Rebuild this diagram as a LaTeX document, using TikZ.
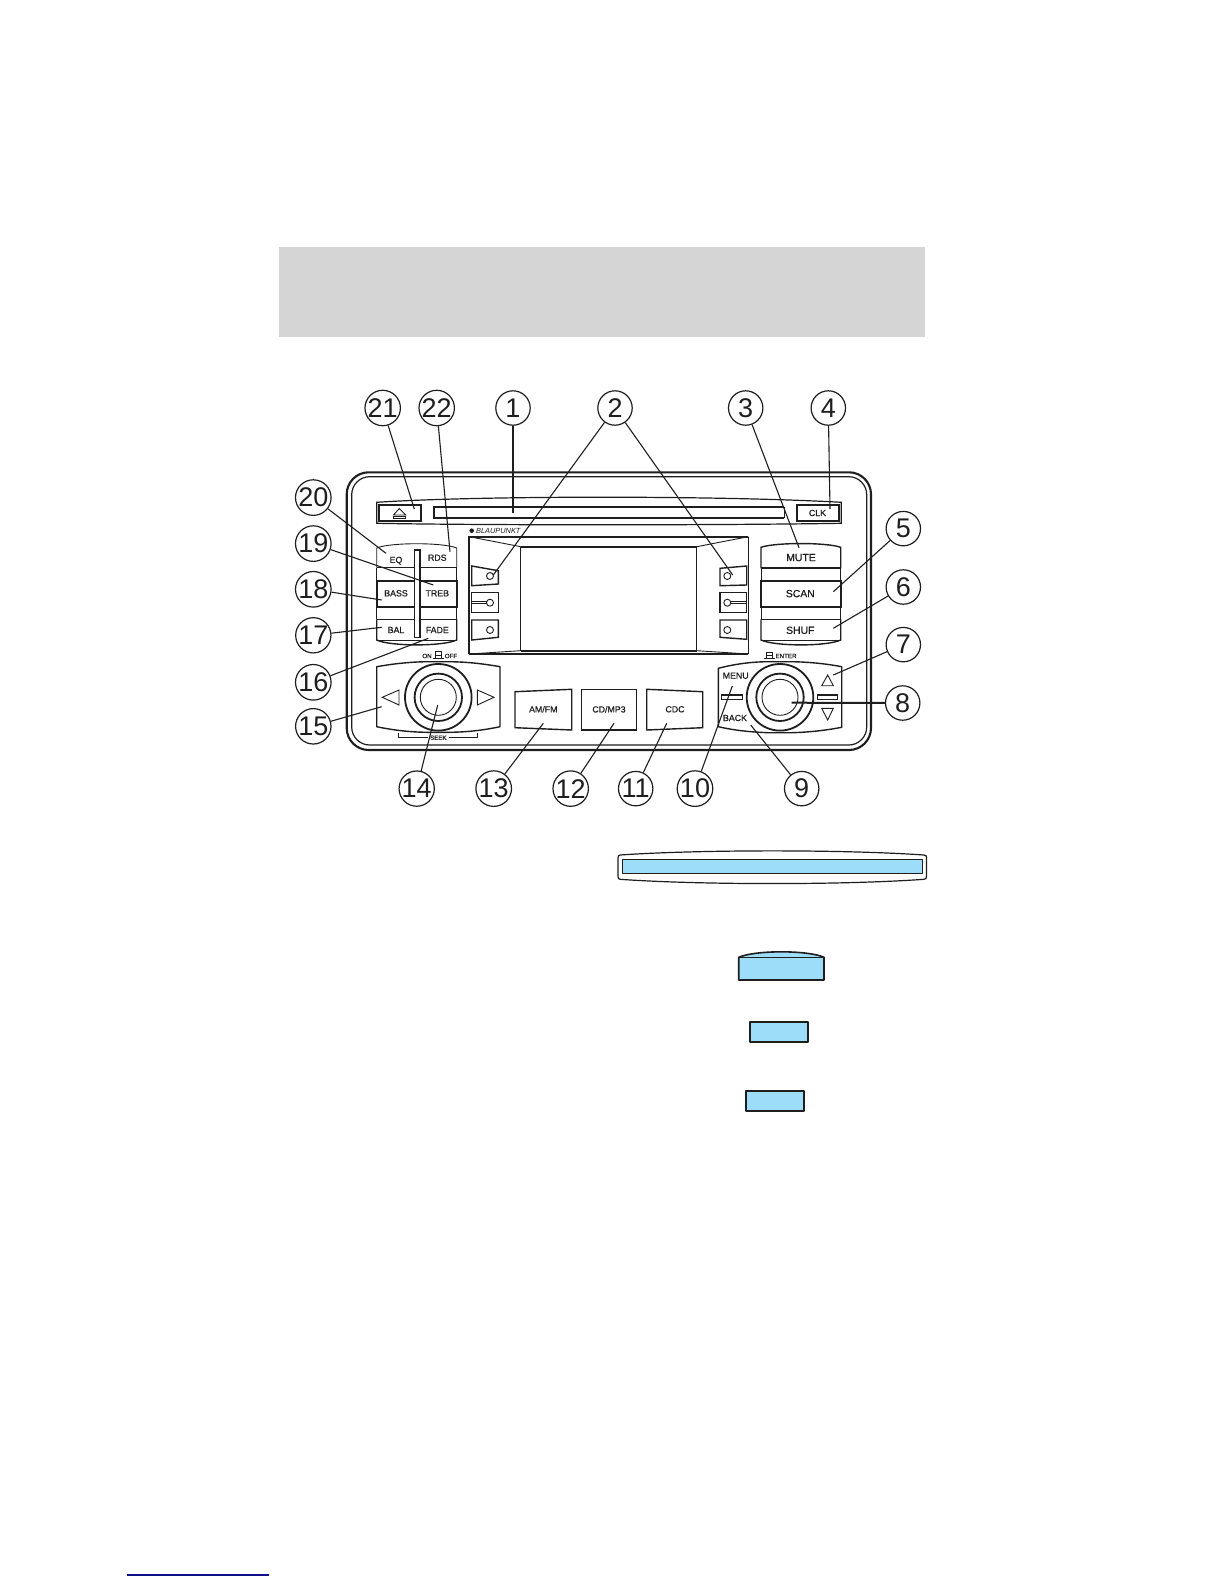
\documentclass[tikz,border=0pt]{standalone}
\usepackage{fontspec}
\setmainfont{Liberation Sans}
\newfontfamily\labfont[FakeBold=0.6]{Liberation Sans}
\definecolor{ink}{HTML}{1E1E1E}
\definecolor{lightblue}{HTML}{9EDDF9}
\definecolor{headgray}{HTML}{D5D5D5}
\definecolor{navyline}{HTML}{10108C}
\tikzset{
  thinl/.style={draw=ink,line width=.45pt},
  medl/.style={draw=ink,line width=.7pt},
  thickl/.style={draw=ink,line width=.9pt},
  callout/.style={circle,draw=ink,fill=white,line width=.6pt,minimum size=17.2pt,inner sep=0pt,font=\fontsize{13.5}{14}\selectfont,text=ink},
  leader/.style={draw=ink,line width=.55pt},
  lab/.style={inner sep=0pt,font=\labfont\fontsize{4.4}{5}\selectfont,text=ink},
  labbig/.style={inner sep=0pt,font=\labfont\fontsize{5.2}{6}\selectfont,text=ink},
  labtiny/.style={inner sep=0pt,font=\labfont\fontsize{3.1}{4}\selectfont,text=ink},
  blueshape/.style={draw=ink,fill=lightblue,line width=.7pt,line join=round}
}
\begin{document}
\begin{tikzpicture}[x=0.5pt,y=-0.5pt]
\useasboundingbox (0,0) rectangle (1224,1584);
\fill[white] (0,0) rectangle (1224,1584);
% header band
\fill[headgray] (279,247) rectangle (925,336.5);
% body
\draw[thickl,line width=1.05pt,rounded corners=11pt] (346.7,472.3) rectangle (871,750);
\draw[thinl,line width=.6pt,rounded corners=9pt] (351.7,476.7) rectangle (866.7,745);
% slot panel
\draw[thinl,line width=.6pt] (376.7,502.3) .. controls (480,495.5) and (720,495.5) .. (841.3,502.3) -- (841.3,523.3) .. controls (720,525.3) and (480,525.3) .. (376.7,523.3) -- cycle;
\draw[thickl] (784,506.7) -- (434,506.7) -- (434,517.7) -- (784,517.7);
\draw[thinl] (784,506.7) -- (784,517.7);
\draw[thickl,fill=white] (379.3,505) rectangle (421.3,521);
\draw[thickl,fill=white] (796.7,505) rectangle (839,521);
\draw[thinl] (393.5,515) -- (399.3,508.5) -- (405.7,515) -- cycle;
\draw[thinl] (393.5,516.3) rectangle (405.7,518.5);
\node[lab] (tclk) at (817.5,513) {CLK};
% brand
\fill[ink] (471.7,530.7) circle (2.3);
\node[lab,anchor=west,font=\fontsize{3.7}{5}\itshape\selectfont] (tbrand) at (475.7,530.9) {BLAUPUNKT};
% centre panel
\draw[thickl] (469.3,654) -- (469.3,536.7) -- (748.3,536.7);
\draw[thinl] (748.3,536.7) -- (748.3,654);
\draw[thickl] (469.3,654) -- (748.3,654);
\draw[thickl] (520.7,546.7) -- (696.7,546.7);
\draw[thickl] (520.7,650.7) -- (696.7,650.7);
\draw[medl] (520.7,546.7) -- (520.7,650.7);
\draw[thinl] (696.7,546.7) -- (696.7,650.7);
\draw[thinl] (469.3,536.7) -- (520.7,546.7);
\draw[thinl] (748.3,536.7) -- (696.7,546.7);
\draw[thinl] (469.3,654) -- (520.7,650.7);
\draw[thinl] (748.3,654) -- (696.7,650.7);
% preset buttons left
\draw[medl] (471.7,566) -- (498.3,570.7) -- (498.3,584) -- (471.7,585.7) -- cycle;
\draw[medl] (471.7,592.7) rectangle (498.3,612.3);
\draw[medl] (471.7,620) -- (498.3,620) -- (498.3,637.3) -- (471.7,640) -- cycle;
\draw[thinl] (490,576) circle (3.5);
\draw[thinl] (471.7,601.6) -- (486.5,601.6) (471.7,603.8) -- (486.5,603.8);
\draw[thinl] (490,602.7) circle (3.5);
\draw[thinl] (490,630) circle (3.5);
% preset buttons right
\draw[medl] (720,568.3) -- (746.7,566) -- (746.7,585) -- (720,585.7) -- cycle;
\draw[medl] (720,592.7) rectangle (746.7,612.3);
\draw[medl] (720,620) -- (746.7,620) -- (746.7,639.3) -- (720,637.3) -- cycle;
\draw[thinl] (727.3,576) circle (3.5);
\draw[thinl] (730.8,601.6) -- (746.7,601.6) (730.8,603.8) -- (746.7,603.8);
\draw[thinl] (727.3,602.7) circle (3.5);
\draw[thinl] (727.3,630) circle (3.5);
% right stack
\draw[medl] (761,568.3) -- (761,547.3) .. controls (775,542.3) and (827,542.3) .. (840.7,547.3) -- (840.7,568.3);
\draw[thickl] (761,568.3) -- (840.7,568.3);
\draw[thinl] (761,568.3) -- (761,581) (840.7,568.3) -- (840.7,581);
\draw[thickl] (761,581) rectangle (840.7,606.7);
\draw[thinl] (761,606.7) -- (761,619.3) (840.7,606.7) -- (840.7,619.3);
\draw[medl] (761,619.3) -- (840.7,619.3);
\draw[medl] (761,619.3) -- (761,640) .. controls (775,646.5) and (827,646.5) .. (840.7,640) -- (840.7,619.3);
\draw[thinl] (761,640) -- (840.7,640);
\node[labbig] (tmute) at (801,557.6) {MUTE};
\node[labbig] (tscan) at (800.3,593.6) {SCAN};
\node[labbig] (tshuf) at (800.3,630.3) {SHUF};
% left stack
\draw[thinl] (376.7,567.7) -- (376.7,548) .. controls (390,542.3) and (443,542.3) .. (456.7,548) -- (456.7,567.7);
\draw[thinl] (376.7,567.7) -- (456.7,567.7);
\draw[thinl] (376.7,567.7) -- (376.7,581) (456.7,567.7) -- (456.7,581);
\draw[thickl] (376.7,581) rectangle (456.7,606.7);
\draw[thinl] (376.7,606.7) -- (376.7,619.3) (456.7,606.7) -- (456.7,619.3);
\draw[medl] (376.7,619.3) -- (456.7,619.3);
\draw[medl] (376.7,619.3) -- (376.7,640) .. controls (390,646.5) and (443,646.5) .. (456.7,640) -- (456.7,619.3);
\draw[thinl] (376.7,640) -- (456.7,640);
\draw[medl,fill=white] (414.7,550) rectangle (420,637.3);
\node[lab] (teq) at (396,560.7) {EQ};
\node[lab] (trds) at (437.3,557.7) {RDS};
\node[lab] (tbass) at (396,593.3) {BASS};
\node[lab] (ttreb) at (437.3,593.3) {TREB};
\node[lab] (tbal) at (396,630) {BAL};
\node[lab] (tfade) at (437.3,630) {FADE};
% left knob
\draw[medl,line join=round] (376.7,666.7) .. controls (395,663.5) and (410,662) .. (426.7,661.7) -- (450,661.7) .. controls (467,662) and (482,663.5) .. (500,666.7) -- (500,726.7) .. controls (482,730.5) and (467,732) .. (450,732.3) -- (426.7,732.3) .. controls (410,732) and (395,730.5) .. (376.7,726.7) -- cycle;
\draw[thickl,fill=white] (438.3,697.3) circle (33.3);
\draw[thickl] (438.3,697.3) circle (23.7);
\draw[thinl] (438.3,697.3) circle (18);
\draw[thinl] (382.3,697.3) -- (399,690) -- (399,705) -- cycle;
\draw[thinl] (494,697.3) -- (477.3,690) -- (477.3,705) -- cycle;
\draw[thinl] (435.3,651.7) rectangle (441.7,655.7);
\draw[thinl] (435.3,655.7) -- (435.3,658.7) (441.7,655.7) -- (441.7,658.7);
\draw[medl] (433.3,658.7) -- (444,658.7);
\node[labtiny] (ton) at (427,656) {ON};
\node[labtiny] (toff) at (451,656) {OFF};
\draw[thinl] (398.3,733.3) -- (398.3,737.3) -- (477.3,737.3) -- (477.3,733.3);
\node[labtiny,fill=white,inner xsep=1pt] (tseek) at (438.3,737.7) {SEEK};
% mode buttons
\draw[medl] (515,691.7) -- (571.7,689.3) -- (571.7,730) -- (515,727.7) -- cycle;
\draw[medl] (581.7,689.3) rectangle (636.7,730);
\draw[medl] (646.7,689.3) -- (702.7,691.7) -- (702.7,727.7) -- (646.7,730) -- cycle;
\node[lab] (tam) at (543.3,709.3) {AM/FM};
\node[lab] (tcd) at (609,709.3) {CD/MP3};
\node[lab] (tcdc) at (675,709.3) {CDC};
% right knob
\draw[medl,line join=round] (718.3,668.3) .. controls (735,664) and (750,662) .. (766.7,661.7) -- (791.7,661.7) .. controls (808,662) and (825,663.5) .. (841.7,666.7) -- (841.7,727.3) .. controls (825,730.5) and (808,732.3) .. (791.7,732.7) -- (768.3,732.7) .. controls (750,732) and (735,730.5) .. (718.3,726.7) -- cycle;
\draw[thickl,fill=white] (780,697.3) circle (33.3);
\draw[thickl] (780,697.3) circle (23.7);
\draw[thinl] (780,697.3) circle (18);
\draw[medl] (721.7,695) rectangle (742.7,699.3);
\draw[medl] (817.3,695) rectangle (837.7,699.3);
\draw[thinl] (827.7,675) -- (821.7,685.7) -- (833.3,685.7) -- cycle;
\draw[thinl] (827.7,720) -- (821.7,708.3) -- (833.3,708.3) -- cycle;
\node[lab] (tmenu) at (735.7,675.7) {MENU};
\node[lab] (tback) at (735,718) {BACK};
\draw[thinl] (766,652) rectangle (772,655.7);
\draw[thinl] (766,655.7) -- (766,658.3) (772,655.7) -- (772,658.3);
\draw[medl] (764,658.3) -- (775,658.3);
\node[labtiny] (tenter) at (786,656) {ENTER};
% leader ends
\coordinate (e1) at (513,513.3);
\coordinate (e2a) at (493.3,575);
\coordinate (e2b) at (732.7,575);
\coordinate (e3) at (799,547.7);
\coordinate (e4) at (830,509);
\coordinate (e5) at (833.3,591.7);
\coordinate (e6) at (833.3,628.3);
\coordinate (e7) at (833.3,675);
\coordinate (e8) at (791.7,702.7);
\coordinate (e9) at (750.7,725);
\coordinate (e10) at (732.3,686);
\coordinate (e11) at (666.7,723.3);
\coordinate (e12) at (614,723.3);
\coordinate (e13) at (543.3,723.3);
\coordinate (e14) at (437.7,705);
\coordinate (e15) at (381.7,706.7);
\coordinate (e16) at (428.3,638.3);
\coordinate (e17) at (381.7,627.3);
\coordinate (e18) at (381.7,600);
\coordinate (e19) at (433.3,585);
\coordinate (e20) at (386,553.3);
\coordinate (e21) at (414.3,509);
\coordinate (e22) at (450,551.7);
% callouts
\node[callout] (n1) at (513,408) {1};
\node[callout] (n2) at (615,408) {2};
\node[callout] (n3) at (745.7,408) {3};
\node[callout] (n4) at (828.3,408) {4};
\node[callout] (n5) at (903.3,528.6) {5};
\node[callout] (n6) at (903.3,587) {6};
\node[callout] (n7) at (903.3,644.6) {7};
\node[callout] (n8) at (902.7,703) {8};
\node[callout] (n9) at (801.7,788.6) {9};
\node[callout] (n10) at (695,788.6) {10};
\node[callout] (n11) at (635.7,788.6) {11};
\node[callout] (n12) at (570.7,788.6) {12};
\node[callout] (n13) at (493.7,788.6) {13};
\node[callout] (n14) at (416.7,788.6) {14};
\node[callout] (n15) at (313.3,726.3) {15};
\node[callout] (n16) at (313.3,682.3) {16};
\node[callout] (n17) at (313.3,635.3) {17};
\node[callout] (n18) at (313.3,589.3) {18};
\node[callout] (n19) at (313.3,543.6) {19};
\node[callout] (n20) at (313.3,497.6) {20};
\node[callout] (n21) at (382.7,408) {21};
\node[callout] (n22) at (436.7,408) {22};
% leaders
\foreach \a/\b in {n1/e1,n2/e2a,n2/e2b,n3/e3,n4/e4,n5/e5,n6/e6,n7/e7,n9/e9,n10/e10,n11/e11,n12/e12,n13/e13,n14/e14,n15/e15,n16/e16,n17/e17,n18/e18,n19/e19,n20/e20,n21/e21,n22/e22}
  \draw[leader] (\a) -- (\b);
\draw[leader,line width=1pt] (n8) -- (e8);
% legend shapes
\draw[draw=ink,line width=.6pt,fill=white] (620,855) .. controls (700,849.5) and (845,849.5) .. (924,855) .. controls (926.5,855.5) and (926.5,856) .. (926.5,858) -- (926.5,876) .. controls (926.5,878.5) and (926,879) .. (924,879.3) .. controls (845,885) and (700,885) .. (620,879.3) .. controls (618.5,879) and (618,878.5) .. (618,876) -- (618,858) .. controls (618,856) and (618.5,855.5) .. (620,855) -- cycle;
\draw[blueshape,line width=.5pt] (622.3,859.3) rectangle (922.7,873.3);
\draw[blueshape,line width=.8pt] (738.7,957.3) .. controls (755,950) and (808,950) .. (824,957.3) -- (824,980) -- (738.7,980) -- cycle;
\draw[ink,line width=.5pt] (738.7,957.3) -- (824,957.3);
\draw[blueshape,line width=.9pt] (749.7,1021.7) rectangle (808.3,1042);
\draw[blueshape,line width=.9pt] (745.7,1090.7) rectangle (804,1111);
% footer line
\draw[navyline,line width=.6pt] (127,1575) -- (269,1575);
\end{tikzpicture}
\end{document}
